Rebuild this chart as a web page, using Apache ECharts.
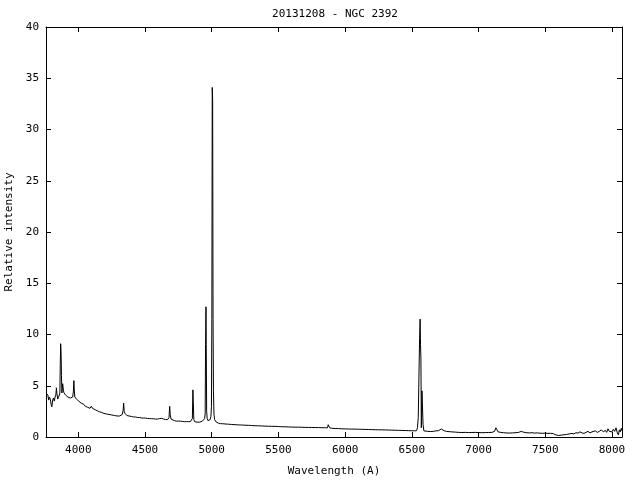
<!DOCTYPE html>
<html>
<head>
<meta charset="utf-8">
<script src="https://cdn.jsdelivr.net/npm/echarts@6/dist/echarts.min.js"></script>
<style>html,body{margin:0;padding:0;background:#fff}#c{width:640px;height:480px}</style>
</head>
<body>
<div id="c"></div>
<script>
const chartTitle = "20131208 - NGC 2392";
const xName = "Wavelength (A)";
const yName = "Relative intensity";
const xTicks = [4000, 4500, 5000, 5500, 6000, 6500, 7000, 7500, 8000];
const yTicks = [0, 5, 10, 15, 20, 25, 30, 35, 40];
const xRange = [3758, 8075];

const wavelength = [
3758,3765,3772,3778,3784,3790,3796,3802,3808,3814,3820,3826,3832,3836,3840,3846,3852,3858,3862,3865,
3868,3871,3874,3877,3880,3883,3886,3889,3893,3898,3904,3910,3916,3922,3928,3934,3940,3946,3952,3958,
3963,3967,3970,3974,3980,3986,3992,3998,4004,4010,4016,4022,4028,4034,4040,4046,4052,4058,4064,4070,
4076,4082,4088,4094,4098,4102,4106,4112,4120,4128,4136,4144,4152,4160,4168,4176,4184,4192,4200,4210,
4220,4230,4240,4250,4260,4270,4280,4290,4300,4310,4320,4330,4336,4340,4344,4350,4356,4364,4372,4380,
4390,4400,4415,4430,4445,4460,4475,4490,4505,4520,4535,4550,4565,4580,4595,4610,4625,4640,4655,4670,
4680,4685,4689,4695,4705,4720,4735,4750,4765,4780,4795,4810,4825,4840,4850,4855,4859,4862,4866,4872,
4880,4890,4900,4910,4920,4930,4940,4947,4951,4954,4957,4959,4962,4966,4972,4980,4988,4994,4998,5001,
5004,5007,5010,5013,5017,5022,5030,5040,5050,5065,5080,5100,5125,5150,5175,5200,5225,5250,5275,5300,
5325,5350,5375,5400,5425,5450,5475,5500,5525,5550,5575,5600,5625,5650,5675,5700,5725,5750,5775,5800,
5825,5850,5868,5873,5878,5884,5900,5925,5950,5975,6000,6025,6050,6075,6100,6125,6150,6175,6200,6225,
6250,6275,6300,6325,6350,6375,6400,6425,6450,6475,6500,6520,6535,6542,6548,6554,6558,6562,6565,6568,
6571,6576,6580,6584,6590,6600,6620,6640,6660,6680,6700,6712,6720,6730,6745,6760,6780,6800,6825,6850,
6875,6900,6925,6950,6975,7000,7025,7050,7075,7100,7120,7130,7138,7146,7165,7185,7205,7230,7255,7280,
7300,7320,7335,7355,7380,7400,7420,7440,7460,7480,7500,7520,7540,7560,7580,7600,7620,7640,7660,7680,
7700,7715,7730,7745,7760,7775,7790,7805,7820,7835,7850,7860,7875,7890,7905,7920,7935,7950,7960,7970,
7980,7990,8000,8010,8020,8030,8040,8048,8055,8062,8070,8075
];
const intensity = [
4.3,4.3,4.1,3.6,3.9,3.7,3.2,2.95,3.6,3.8,3.5,3.9,4.1,4.8,4.2,3.7,3.9,4.1,4.3,7.1,
9.1,8.2,6.0,4.3,4.4,5.2,5.1,4.5,4.3,4.2,4.1,4.0,4.0,3.9,3.8,3.9,3.8,3.7,3.8,3.9,
4.4,5.5,4.6,3.9,3.8,3.7,3.7,3.6,3.5,3.5,3.4,3.3,3.3,3.2,3.2,3.1,3.0,3.0,2.9,2.9,
2.9,2.8,2.8,2.8,3.0,3.1,2.8,2.75,2.7,2.65,2.6,2.55,2.5,2.45,2.45,2.4,2.35,2.3,2.3,2.25,
2.2,2.2,2.15,2.15,2.1,2.1,2.1,2.05,2.05,2.05,2.1,2.2,2.6,3.3,2.5,2.3,2.2,2.1,2.1,2.05,
2.0,2.0,1.95,1.95,1.9,1.9,1.85,1.85,1.85,1.8,1.8,1.78,1.78,1.75,1.75,1.8,1.82,1.75,1.7,1.7,
1.9,3.0,2.2,1.75,1.6,1.6,1.55,1.55,1.55,1.52,1.5,1.5,1.5,1.5,1.55,1.8,4.6,3.4,1.7,1.5,
1.45,1.45,1.45,1.45,1.5,1.55,1.6,1.8,2.3,9.0,12.7,9.0,2.5,1.8,1.6,1.6,1.7,2.0,3.0,11.5,
34.1,32.9,11.5,4.5,2.2,1.7,1.5,1.4,1.35,1.3,1.3,1.27,1.25,1.22,1.2,1.18,1.17,1.15,1.14,1.12,
1.1,1.09,1.08,1.06,1.05,1.04,1.04,1.02,1.0,1.0,0.98,0.97,0.96,0.96,0.95,0.94,0.93,0.93,0.92,0.92,
0.91,0.9,0.9,1.2,1.15,0.9,0.85,0.83,0.82,0.8,0.79,0.78,0.77,0.77,0.76,0.75,0.74,0.73,0.72,0.71,
0.7,0.7,0.69,0.68,0.67,0.66,0.65,0.64,0.63,0.62,0.61,0.6,0.62,0.9,1.9,2.0,9.6,11.5,9.0,7.6,
0.9,4.5,4.4,1.2,0.6,0.55,0.55,0.53,0.55,0.6,0.62,0.75,0.78,0.7,0.6,0.55,0.52,0.5,0.48,0.45,
0.44,0.45,0.43,0.44,0.45,0.43,0.42,0.43,0.44,0.45,0.55,0.9,0.7,0.5,0.45,0.42,0.4,0.38,0.4,0.42,
0.45,0.55,0.48,0.42,0.4,0.42,0.38,0.4,0.37,0.36,0.38,0.35,0.36,0.33,0.2,0.15,0.18,0.22,0.25,0.3,
0.35,0.3,0.42,0.38,0.5,0.4,0.35,0.45,0.55,0.4,0.5,0.35,0.6,0.45,0.55,0.7,0.5,0.65,0.45,0.8,
0.55,0.7,0.5,0.75,0.55,0.9,0.4,0.2,0.7,0.5,0.85,0.6
];

const seriesData = wavelength.map((w, i) => [w, intensity[i]]);
const FONT = '"DejaVu Sans Mono", monospace';
const plainNum = v => String(v);
const axisCommon = {
  axisLine: { show: true, onZero: false, lineStyle: { color: '#000', width: 1 } },
  splitLine: { show: false },
};

const chart = echarts.init(document.getElementById('c'), null, { renderer: 'canvas' });
chart.setOption({
  animation: false,
  backgroundColor: '#fff',
  title: {
    text: chartTitle, left: 330, top: 4, textAlign: 'center',
    textStyle: { fontFamily: FONT, fontSize: 11, fontWeight: 'normal', color: '#000' }
  },
  grid: { left: 46, right: 18, top: 27, bottom: 43, containLabel: false, outerBoundsMode: 'none' },
  xAxis: [
    Object.assign({}, axisCommon, {
      type: 'value', position: 'bottom', min: xRange[0], max: xRange[1],
      name: xName, nameLocation: 'middle', nameGap: 29,
      nameTextStyle: { fontFamily: FONT, fontSize: 11, color: '#000' },
      axisTick: { show: true, inside: true, length: 5, customValues: xTicks, lineStyle: { color: '#000' } },
      axisLabel: { show: true, customValues: xTicks, formatter: plainNum, margin: 8, fontFamily: FONT, fontSize: 11, color: '#000' }
    }),
    Object.assign({}, axisCommon, {
      type: 'value', position: 'top', min: xRange[0], max: xRange[1],
      axisTick: { show: true, inside: true, length: 5, customValues: xTicks, lineStyle: { color: '#000' } },
      axisLabel: { show: false }
    })
  ],
  yAxis: [
    Object.assign({}, axisCommon, {
      type: 'value', position: 'left', min: yTicks[0], max: yTicks[yTicks.length - 1], interval: 5,
      name: yName, nameLocation: 'middle', nameGap: 29, nameRotate: 90,
      nameTextStyle: { fontFamily: FONT, fontSize: 11, color: '#000' },
      axisTick: { show: true, inside: true, length: 5, customValues: yTicks, lineStyle: { color: '#000' } },
      axisLabel: { show: true, customValues: yTicks, formatter: plainNum, margin: 7, fontFamily: FONT, fontSize: 11, color: '#000' }
    }),
    Object.assign({}, axisCommon, {
      type: 'value', position: 'right', min: yTicks[0], max: yTicks[yTicks.length - 1], interval: 5,
      axisTick: { show: true, inside: true, length: 5, customValues: yTicks, lineStyle: { color: '#000' } },
      axisLabel: { show: false }
    })
  ],
  series: [{
    type: 'line', xAxisIndex: 0, yAxisIndex: 0, data: seriesData,
    showSymbol: false, symbol: 'none', smooth: false,
    lineStyle: { color: '#000', width: 1 }, silent: true
  }]
});
</script>
</body>
</html>
